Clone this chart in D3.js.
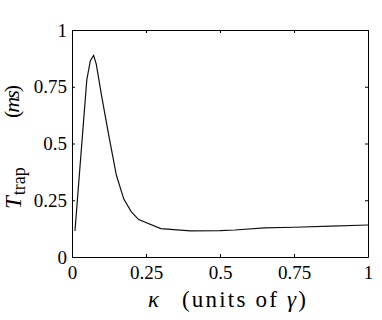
<!DOCTYPE html>
<html lang="en">
<head>
<meta charset="UTF-8">
<title>Trap time vs kappa</title>
<script src="https://d3js.org/d3.v7.min.js"></script>
<style>
    body { margin: 0; background: #fff; }
    .axis path, .axis line { stroke: #000; stroke-width: 1; }
</style>
</head>
<body>
<svg width="382" height="320"></svg>
<script>

    // kappa (units of gamma) and trapping time (ms)
    var kappa = [0.01, 0.05, 0.062, 0.073, 0.082, 0.1, 0.125, 0.15, 0.175, 0.2, 0.225,
                 0.3, 0.4, 0.5, 0.55, 0.65, 0.75, 0.875, 1.0];
    var ttrap = [0.115, 0.78, 0.865, 0.888, 0.85, 0.71, 0.53, 0.36, 0.255, 0.2, 0.165,
                 0.125, 0.115, 0.116, 0.119, 0.128, 0.131, 0.136, 0.141];

    var xTicks = [0, 0.25, 0.5, 0.75, 1];
    var yTicks = [0, 0.25, 0.5, 0.75, 1];
    var xTickLabels = ['0', '0.25', '0.5', '0.75', '1'];
    var yTickLabels = ['0', '0.25', '0.5', '0.75', '1'];

    var serif = 'Liberation Serif';

    var svg = d3.select('svg');
    var margin = {top: 30, right: 14, bottom: 63, left: 72};
    var width = +svg.attr('width') - margin.left - margin.right;
    var height = +svg.attr('height') - margin.top - margin.bottom;

    var g = svg.append('g')
            .attr('transform', 'translate(' + margin.left + ',' + margin.top + ')');

    var x = d3.scaleLinear().domain([0, 1]).range([0, width]);
    var y = d3.scaleLinear().domain([0, 1]).range([height, 0]);

    var fontSize = 19;

    function styleLabels(a) {
        a.attr('font-family', null).attr('font-size', null);
        a.selectAll('text')
                .attr('font-family', serif)
                .attr('font-size', fontSize)
                .attr('fill', '#000');
    }

    // bottom / left with labels, ticks pointing inward
    g.append('g')
            .attr('class', 'axis')
            .attr('transform', 'translate(0,' + height + ')')
            .call(d3.axisBottom(x).tickValues(xTicks)
                    .tickFormat(function (d, i) { return xTickLabels[i]; })
                    .tickSize(-3).tickSizeOuter(0).tickPadding(9))
            .call(styleLabels);

    g.append('g')
            .attr('class', 'axis')
            .call(d3.axisLeft(y).tickValues(yTicks)
                    .tickFormat(function (d, i) { return yTickLabels[i]; })
                    .tickSize(-3).tickSizeOuter(0).tickPadding(5))
            .call(styleLabels);

    // top / right: box with ticks only
    g.append('g')
            .attr('class', 'axis')
            .call(d3.axisTop(x).tickValues(xTicks).tickFormat('')
                    .tickSize(-3).tickSizeOuter(0));

    g.append('g')
            .attr('class', 'axis')
            .attr('transform', 'translate(' + width + ',0)')
            .call(d3.axisRight(y).tickValues(yTicks).tickFormat('')
                    .tickSize(-3).tickSizeOuter(0));

    var line = d3.line()
            .x(function (d, i) { return x(kappa[i]); })
            .y(function (d, i) { return y(ttrap[i]); });

    g.append('path')
            .datum(kappa)
            .attr('d', line)
            .attr('fill', 'none')
            .attr('stroke', '#111')
            .attr('stroke-width', 1.2);

    // x label: kappa, then "(units of gamma)"
    svg.append('text')
            .attr('x', 148)
            .attr('y', 307)
            .attr('font-family', serif)
            .attr('font-size', 23)
            .attr('font-style', 'italic')
            .text('\u03ba');

    var xl = svg.append('text')
            .attr('x', 182)
            .attr('y', 307)
            .attr('font-family', serif)
            .attr('font-size', 23)
            .attr('textLength', 124)
            .attr('lengthAdjust', 'spacing');
    xl.append('tspan').text('(units of ');
    xl.append('tspan').attr('font-style', 'italic').text('\u03b3');
    xl.append('tspan').text(')');

    // y label, rotated: T_trap at the bottom, (ms) higher up
    var yl = svg.append('g')
            .attr('transform', 'translate(21,0) rotate(-90)');

    var t1 = yl.append('text')
            .attr('x', -209)
            .attr('y', 0)
            .attr('font-family', serif)
            .attr('font-size', 23);
    t1.append('tspan').attr('font-style', 'italic').text('T');
    t1.append('tspan').attr('font-size', 18).attr('dx', 1).attr('dy', 4).text('trap');

    var t2 = yl.append('text')
            .attr('x', -118)
            .attr('y', -2)
            .attr('font-family', serif)
            .attr('font-size', 22)
            .attr('textLength', 33)
            .attr('lengthAdjust', 'spacing');
    t2.append('tspan').text('(');
    t2.append('tspan').attr('font-style', 'italic').text('ms');
    t2.append('tspan').text(')');

</script>
</body>
</html>
